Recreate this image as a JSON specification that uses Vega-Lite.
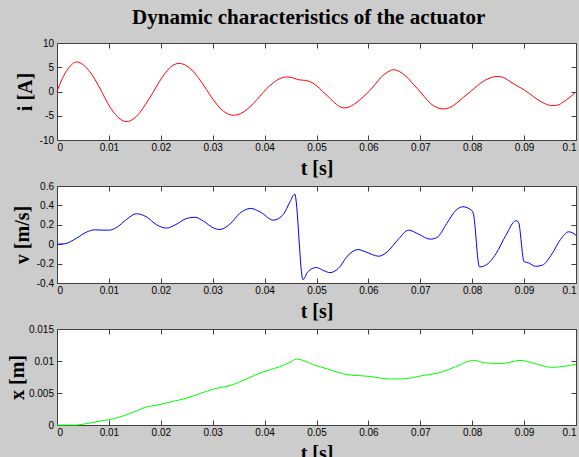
{
  "$schema": "https://vega.github.io/schema/vega-lite/v6.json",
  "autosize": {"type": "none"},
  "padding": {"left": 57, "top": 43, "right": 522, "bottom": 414},
  "background": "#cccccc",
  "title": {"text": "Dynamic characteristics of the actuator", "font": "Liberation Serif", "fontSize": 21, "fontWeight": "bold", "color": "#000000", "anchor": "middle", "frame": "bounds", "offset": -7, "dx": 16, "baseline": "alphabetic"},
  "datasets": {
    "cur": [
      {"t": 0, "i": 0}, {"t": 0.0005, "i": 1.4}, {"t": 0.001, "i": 2.6}, {"t": 0.002, "i": 4.5}, {"t": 0.003, "i": 5.7}, {"t": 0.0037, "i": 6.1},
      {"t": 0.0048, "i": 5.7}, {"t": 0.006, "i": 4.5}, {"t": 0.0073, "i": 2.5}, {"t": 0.0086, "i": 0.0}, {"t": 0.0098, "i": -2.5}, {"t": 0.011, "i": -4.4},
      {"t": 0.0122, "i": -5.7}, {"t": 0.0134, "i": -6.2}, {"t": 0.0147, "i": -5.7}, {"t": 0.016, "i": -4.3}, {"t": 0.0172, "i": -2.4}, {"t": 0.0185, "i": -0.2},
      {"t": 0.0197, "i": 2.0}, {"t": 0.021, "i": 4.0}, {"t": 0.0222, "i": 5.3}, {"t": 0.0235, "i": 5.8}, {"t": 0.0248, "i": 5.4}, {"t": 0.026, "i": 4.4},
      {"t": 0.0274, "i": 2.6}, {"t": 0.0288, "i": 0.4}, {"t": 0.0301, "i": -1.7}, {"t": 0.0314, "i": -3.4}, {"t": 0.0327, "i": -4.5}, {"t": 0.034, "i": -4.9},
      {"t": 0.0353, "i": -4.6}, {"t": 0.0366, "i": -3.7}, {"t": 0.0378, "i": -2.5}, {"t": 0.039, "i": -1.1}, {"t": 0.0404, "i": 0.6}, {"t": 0.0417, "i": 1.8},
      {"t": 0.043, "i": 2.7}, {"t": 0.0443, "i": 3.0}, {"t": 0.0455, "i": 2.8}, {"t": 0.0467, "i": 2.4}, {"t": 0.0478, "i": 2.3}, {"t": 0.049, "i": 1.9},
      {"t": 0.05, "i": 1.2}, {"t": 0.0512, "i": 0.0}, {"t": 0.0524, "i": -1.2}, {"t": 0.0538, "i": -2.6}, {"t": 0.0553, "i": -3.4}, {"t": 0.0565, "i": -3.1},
      {"t": 0.0578, "i": -2.2}, {"t": 0.059, "i": -1.1}, {"t": 0.0601, "i": 0.0}, {"t": 0.0613, "i": 1.5}, {"t": 0.0625, "i": 3.0}, {"t": 0.0637, "i": 4.0},
      {"t": 0.0648, "i": 4.5}, {"t": 0.066, "i": 4.1}, {"t": 0.0672, "i": 3.2}, {"t": 0.0684, "i": 1.8}, {"t": 0.0696, "i": 0.4}, {"t": 0.0708, "i": -1.1},
      {"t": 0.072, "i": -2.5}, {"t": 0.0732, "i": -3.3}, {"t": 0.0744, "i": -3.6}, {"t": 0.0757, "i": -3.3}, {"t": 0.077, "i": -2.4}, {"t": 0.0783, "i": -1.2},
      {"t": 0.0797, "i": 0.0}, {"t": 0.081, "i": 1.2}, {"t": 0.0823, "i": 2.2}, {"t": 0.0837, "i": 2.9}, {"t": 0.085, "i": 3.1}, {"t": 0.0862, "i": 2.8},
      {"t": 0.0875, "i": 1.9}, {"t": 0.0886, "i": 1.2}, {"t": 0.0896, "i": 0.6}, {"t": 0.091, "i": -0.4}, {"t": 0.0925, "i": -1.6}, {"t": 0.094, "i": -2.5},
      {"t": 0.0953, "i": -2.9}, {"t": 0.0965, "i": -2.8}, {"t": 0.0975, "i": -2.2}, {"t": 0.0988, "i": -1.2}, {"t": 0.1, "i": -0.1}
    ],
    "vel": [
      {"t": 0, "v": 0}, {"t": 0.0015, "v": 0.005}, {"t": 0.0037, "v": 0.06}, {"t": 0.0057, "v": 0.125}, {"t": 0.0073, "v": 0.148}, {"t": 0.0088, "v": 0.145},
      {"t": 0.0101, "v": 0.145}, {"t": 0.0114, "v": 0.17}, {"t": 0.0134, "v": 0.255}, {"t": 0.0153, "v": 0.314}, {"t": 0.0172, "v": 0.283}, {"t": 0.0192, "v": 0.2},
      {"t": 0.0211, "v": 0.166}, {"t": 0.0227, "v": 0.197}, {"t": 0.025, "v": 0.266}, {"t": 0.0266, "v": 0.278}, {"t": 0.0282, "v": 0.238}, {"t": 0.0301, "v": 0.169},
      {"t": 0.0314, "v": 0.152}, {"t": 0.0333, "v": 0.207}, {"t": 0.0352, "v": 0.317}, {"t": 0.0373, "v": 0.369}, {"t": 0.0391, "v": 0.334}, {"t": 0.0417, "v": 0.248},
      {"t": 0.0436, "v": 0.307}, {"t": 0.0449, "v": 0.438}, {"t": 0.0458, "v": 0.517}, {"t": 0.0474, "v": -0.366}, {"t": 0.0483, "v": -0.286}, {"t": 0.05, "v": -0.24},
      {"t": 0.0513, "v": -0.27}, {"t": 0.0526, "v": -0.293}, {"t": 0.0542, "v": -0.25}, {"t": 0.0561, "v": -0.114}, {"t": 0.058, "v": -0.055}, {"t": 0.0595, "v": -0.08},
      {"t": 0.062, "v": -0.124}, {"t": 0.0636, "v": -0.08}, {"t": 0.0659, "v": 0.059}, {"t": 0.0677, "v": 0.145}, {"t": 0.0697, "v": 0.103}, {"t": 0.0719, "v": 0.052},
      {"t": 0.0732, "v": 0.069}, {"t": 0.0751, "v": 0.214}, {"t": 0.0769, "v": 0.352}, {"t": 0.0782, "v": 0.386}, {"t": 0.0798, "v": 0.352}, {"t": 0.0802, "v": 0.32},
      {"t": 0.0814, "v": -0.234}, {"t": 0.0826, "v": -0.217}, {"t": 0.0846, "v": -0.097}, {"t": 0.0865, "v": 0.093}, {"t": 0.0884, "v": 0.241}, {"t": 0.0889, "v": 0.23},
      {"t": 0.09, "v": -0.18}, {"t": 0.0909, "v": -0.193}, {"t": 0.0922, "v": -0.228}, {"t": 0.0935, "v": -0.217}, {"t": 0.0954, "v": -0.097}, {"t": 0.097, "v": 0.048},
      {"t": 0.0986, "v": 0.128}, {"t": 0.1, "v": 0.093}
    ],
    "pos": [
      {"t": 0, "x": 0}, {"t": 0.0037, "x": 0}, {"t": 0.0056, "x": 0.0002}, {"t": 0.0082, "x": 0.0006}, {"t": 0.0101, "x": 0.00084}, {"t": 0.0127, "x": 0.0014},
      {"t": 0.0147, "x": 0.002}, {"t": 0.0172, "x": 0.0028}, {"t": 0.0192, "x": 0.0031}, {"t": 0.0224, "x": 0.0037}, {"t": 0.025, "x": 0.0042}, {"t": 0.0275, "x": 0.0049},
      {"t": 0.0301, "x": 0.0056}, {"t": 0.0339, "x": 0.0063}, {"t": 0.0365, "x": 0.0072}, {"t": 0.0397, "x": 0.0083}, {"t": 0.0429, "x": 0.0091}, {"t": 0.0449, "x": 0.0098},
      {"t": 0.0461, "x": 0.0103}, {"t": 0.0499, "x": 0.0093}, {"t": 0.0531, "x": 0.0085}, {"t": 0.0557, "x": 0.0079}, {"t": 0.0601, "x": 0.0076}, {"t": 0.064, "x": 0.0072},
      {"t": 0.0665, "x": 0.0072}, {"t": 0.0703, "x": 0.0077}, {"t": 0.0742, "x": 0.0083}, {"t": 0.0768, "x": 0.0091}, {"t": 0.0803, "x": 0.0101}, {"t": 0.0826, "x": 0.0097},
      {"t": 0.0857, "x": 0.0096}, {"t": 0.0892, "x": 0.0101}, {"t": 0.0921, "x": 0.0096}, {"t": 0.0953, "x": 0.009}, {"t": 0.0979, "x": 0.0092}, {"t": 0.1, "x": 0.0095}
    ]
  },
  "vconcat": [
    {
      "width": 519, "height": 97,
      "data": {"name": "cur"},
      "resolve": {"axis": {"x": "independent", "y": "independent"}},
      "layer": [
        {
          "mark": {"type": "line", "color": "#ff0000", "strokeWidth": 1, "interpolate": "monotone"},
          "encoding": {
            "x": {"field": "t", "type": "quantitative", "scale": {"domain": [0, 0.1], "nice": false}, "axis": {"orient": "bottom", "title": "t [s]", "values": [0, 0.01, 0.02, 0.03, 0.04, 0.05, 0.06, 0.07, 0.08, 0.09, 0.1], "labelExpr": "replace(format(datum.value, '~g'), '−', '-')"}},
            "y": {"field": "i", "type": "quantitative", "scale": {"domain": [-10, 10], "nice": false}, "axis": {"orient": "left", "title": "i [A]", "values": [-10, -5, 0, 5, 10], "labelExpr": "replace(format(datum.value, '~g'), '−', '-')"}}
          }
        },
        {
          "mark": {"type": "line", "strokeOpacity": 0},
          "encoding": {
            "x": {"field": "t", "type": "quantitative", "axis": {"orient": "top", "title": null, "labels": false, "values": [0, 0.01, 0.02, 0.03, 0.04, 0.05, 0.06, 0.07, 0.08, 0.09, 0.1]}},
            "y": {"field": "i", "type": "quantitative", "axis": {"orient": "right", "title": null, "labels": false, "values": [-10, -5, 0, 5, 10]}}
          }
        }
      ]
    },
    {
      "width": 519, "height": 97,
      "data": {"name": "vel"},
      "resolve": {"axis": {"x": "independent", "y": "independent"}},
      "layer": [
        {
          "mark": {"type": "line", "color": "#0000ff", "strokeWidth": 1, "interpolate": "monotone"},
          "encoding": {
            "x": {"field": "t", "type": "quantitative", "scale": {"domain": [0, 0.1], "nice": false}, "axis": {"orient": "bottom", "title": "t [s]", "values": [0, 0.01, 0.02, 0.03, 0.04, 0.05, 0.06, 0.07, 0.08, 0.09, 0.1], "labelExpr": "replace(format(datum.value, '~g'), '−', '-')"}},
            "y": {"field": "v", "type": "quantitative", "scale": {"domain": [-0.4, 0.6], "nice": false}, "axis": {"orient": "left", "title": "v [m/s]", "values": [-0.4, -0.2, 0, 0.2, 0.4, 0.6], "labelExpr": "replace(format(datum.value, '~g'), '−', '-')"}}
          }
        },
        {
          "mark": {"type": "line", "strokeOpacity": 0},
          "encoding": {
            "x": {"field": "t", "type": "quantitative", "axis": {"orient": "top", "title": null, "labels": false, "values": [0, 0.01, 0.02, 0.03, 0.04, 0.05, 0.06, 0.07, 0.08, 0.09, 0.1]}},
            "y": {"field": "v", "type": "quantitative", "axis": {"orient": "right", "title": null, "labels": false, "values": [-0.4, -0.2, 0, 0.2, 0.4, 0.6]}}
          }
        }
      ]
    },
    {
      "width": 519, "height": 96,
      "data": {"name": "pos"},
      "resolve": {"axis": {"x": "independent", "y": "independent"}},
      "layer": [
        {
          "mark": {"type": "line", "color": "#00ff00", "strokeWidth": 1, "interpolate": "monotone"},
          "encoding": {
            "x": {"field": "t", "type": "quantitative", "scale": {"domain": [0, 0.1], "nice": false}, "axis": {"orient": "bottom", "title": "t [s]", "values": [0, 0.01, 0.02, 0.03, 0.04, 0.05, 0.06, 0.07, 0.08, 0.09, 0.1], "labelExpr": "replace(format(datum.value, '~g'), '−', '-')"}},
            "y": {"field": "x", "type": "quantitative", "scale": {"domain": [0, 0.015], "nice": false}, "axis": {"orient": "left", "title": "x [m]", "titlePadding": 1, "values": [0, 0.005, 0.01, 0.015], "labelExpr": "replace(format(datum.value, '~g'), '−', '-')"}}
          }
        },
        {
          "mark": {"type": "line", "strokeOpacity": 0},
          "encoding": {
            "x": {"field": "t", "type": "quantitative", "axis": {"orient": "top", "title": null, "labels": false, "values": [0, 0.01, 0.02, 0.03, 0.04, 0.05, 0.06, 0.07, 0.08, 0.09, 0.1]}},
            "y": {"field": "x", "type": "quantitative", "axis": {"orient": "right", "title": null, "labels": false, "values": [0, 0.005, 0.01, 0.015]}}
          }
        }
      ]
    }
  ],
  "spacing": 46,
  "bounds": "flush",
  "config": {
    "view": {"fill": "#ffffff", "stroke": "#404040", "strokeWidth": 1},
    "axis": {
      "grid": false, "domain": false,
      "tickSize": -5, "tickColor": "#404040", "tickWidth": 1,
      "labelFont": "Liberation Sans", "labelFontSize": 10, "labelColor": "#000000",
      "titleFont": "Liberation Serif", "titleFontSize": 20, "titleFontWeight": "bold", "titleColor": "#000000"
    },
    "axisX": {"labelPadding": 7.5, "titlePadding": 6},
    "axisY": {"labelPadding": 8.5, "titlePadding": 4}
  }
}
